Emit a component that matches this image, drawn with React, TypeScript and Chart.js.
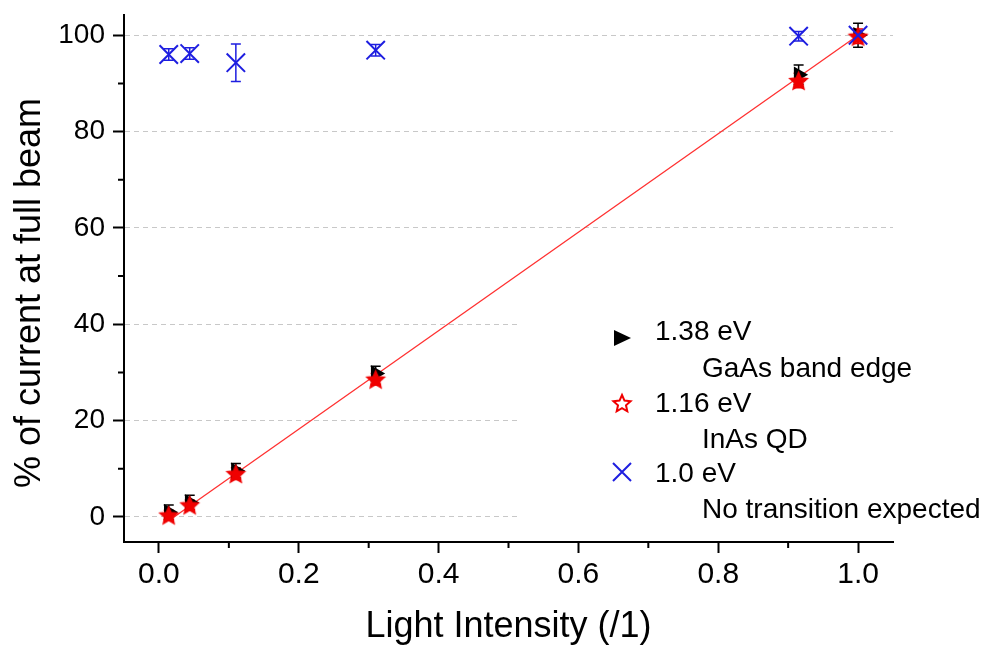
import React, { useEffect, useRef } from 'react';
import { Chart, registerables } from 'chart.js';
Chart.register(...registerables);

// ---- data ----
const intensity = [0.014, 0.044, 0.11, 0.31, 0.915, 1.0];
const gaas = [1.0, 3.0, 9.6, 29.8, 91.8, 100.0];
const gaasErr = [1.5, 1.5, 1.5, 1.5, 2.0, 2.5];
const inas = [0.4, 2.5, 9.0, 28.6, 90.6, 99.8];
const inasErr = [1.0, 1.0, 1.2, 1.2, 1.5, 1.5];
const noTrans = [96.0, 96.2, 94.3, 96.9, 99.8, 100.0];
const noTransErr = [1.2, 1.2, 3.9, 1.2, 1.0, 1.0];
const fitX = [0.014, 1.0];
const fitY = [-0.8, 100.0];
const xTicks = [0, 0.2, 0.4, 0.6, 0.8, 1.0];
const xMinor = [0.1, 0.3, 0.5, 0.7, 0.9];
const yTicks = [0, 20, 40, 60, 80, 100];
const yMinor = [10, 30, 50, 70, 90];
const legendLabels = ['1.38 eV', '1.16 eV', '1.0 eV'];
const legendNotes = ['GaAs band edge', 'InAs QD', 'No transition expected'];
const xTitle = 'Light Intensity (/1)';
const yTitle = '% of current at full beam';

const FONT = '"Liberation Sans", Arial, Helvetica, sans-serif';
const BLACK = '#000000';
const RED = '#f00000';
const BLUE = '#1e1ee0';

function starPath(g: CanvasRenderingContext2D, cx: number, cy: number, outer: number, inner: number) {
  g.beginPath();
  for (let i = 0; i < 10; i++) {
    const r = i % 2 === 0 ? outer : inner;
    const a = -Math.PI / 2 + (i * Math.PI) / 5;
    const px = cx + Math.cos(a) * r;
    const py = cy + Math.sin(a) * r;
    if (i === 0) g.moveTo(px, py);
    else g.lineTo(px, py);
  }
  g.closePath();
}

function makeStar(outer: number, inner: number) {
  const size = Math.ceil(outer * 2 + 4);
  const c = document.createElement('canvas');
  c.width = size;
  c.height = size;
  const g = c.getContext('2d')!;
  starPath(g, size / 2, size / 2 + 1, outer, inner);
  g.fillStyle = RED;
  g.fill();
  g.lineWidth = 1.2;
  g.strokeStyle = RED;
  g.stroke();
  return c;
}

const decor = {
  id: 'decor',
  beforeDatasetsDraw(chart: any) {
    const { ctx } = chart;
    const xs = chart.scales.x;
    const ys = chart.scales.y;
    ctx.save();
    // legend background hides grid lines
    ctx.fillStyle = '#ffffff';
    ctx.fillRect(520, 300, 478, 232);
    // error bars
    const sets: [number[], number[], string][] = [
      [gaas, gaasErr, BLACK],
      [inas, inasErr, RED],
      [noTrans, noTransErr, BLUE],
    ];
    ctx.lineWidth = 1.5;
    for (const [vals, errs, col] of sets) {
      ctx.strokeStyle = col;
      vals.forEach((v, i) => {
        const px = xs.getPixelForValue(intensity[i]);
        const y1 = ys.getPixelForValue(v + errs[i]);
        const y2 = ys.getPixelForValue(v - errs[i]);
        ctx.beginPath();
        ctx.moveTo(px, y1);
        ctx.lineTo(px, y2);
        ctx.moveTo(px - 5, y1);
        ctx.lineTo(px + 5, y1);
        ctx.moveTo(px - 5, y2);
        ctx.lineTo(px + 5, y2);
        ctx.stroke();
      });
    }
    ctx.restore();
  },
  afterDraw(chart: any) {
    const { ctx, chartArea } = chart;
    const xs = chart.scales.x;
    const ys = chart.scales.y;
    ctx.save();
    // minor ticks
    ctx.strokeStyle = BLACK;
    ctx.lineWidth = 2;
    ctx.beginPath();
    xMinor.forEach((v) => {
      const px = xs.getPixelForValue(v);
      ctx.moveTo(px, chartArea.bottom);
      ctx.lineTo(px, chartArea.bottom + 6);
    });
    yMinor.forEach((v) => {
      const py = ys.getPixelForValue(v);
      ctx.moveTo(chartArea.left, py);
      ctx.lineTo(chartArea.left - 6, py);
    });
    ctx.stroke();

    // legend
    const mx = 622;
    ctx.fillStyle = BLACK;
    ctx.beginPath();
    ctx.moveTo(mx - 8, 330);
    ctx.lineTo(mx - 8, 346);
    ctx.lineTo(mx + 9, 338);
    ctx.closePath();
    ctx.fill();
    starPath(ctx, mx, 404, 9, 4.2);
    ctx.strokeStyle = RED;
    ctx.lineWidth = 2;
    ctx.stroke();
    ctx.strokeStyle = BLUE;
    ctx.lineWidth = 2;
    ctx.beginPath();
    ctx.moveTo(mx - 9, 463);
    ctx.lineTo(mx + 9, 481);
    ctx.moveTo(mx + 9, 463);
    ctx.lineTo(mx - 9, 481);
    ctx.stroke();

    ctx.fillStyle = BLACK;
    ctx.font = `28px ${FONT}`;
    ctx.textAlign = 'left';
    ctx.textBaseline = 'alphabetic';
    const labelBase = [340, 412, 482];
    const noteBase = [377, 448, 518];
    legendLabels.forEach((t, i) => ctx.fillText(t, 655, labelBase[i]));
    legendNotes.forEach((t, i) => ctx.fillText(t, 702, noteBase[i]));

    // y title
    ctx.translate(30, 293);
    ctx.rotate(-Math.PI / 2);
    ctx.font = `36px ${FONT}`;
    ctx.textAlign = 'center';
    ctx.textBaseline = 'middle';
    ctx.fillText(yTitle, 0, 0);
    ctx.restore();
  },
};

export default function App() {
  const ref = useRef<HTMLCanvasElement>(null);
  useEffect(() => {
    if (!ref.current) return;
    const star = makeStar(9.5, 4.4);
    const chart = new Chart(ref.current, {
      type: 'scatter',
      data: {
        datasets: [
          {
            label: legendLabels[2],
            data: intensity.map((x, i) => ({ x, y: noTrans[i] })),
            pointStyle: 'crossRot',
            pointRadius: 13,
            pointBorderWidth: 2,
            borderColor: BLUE,
            backgroundColor: BLUE,
          },
          {
            label: legendLabels[1],
            data: intensity.map((x, i) => ({ x, y: inas[i] })),
            pointStyle: star as any,
            pointRadius: 9,
            borderColor: RED,
            backgroundColor: RED,
          },
          {
            label: legendLabels[0],
            data: intensity.map((x, i) => ({ x, y: gaas[i] })),
            pointStyle: 'triangle',
            rotation: 90,
            pointRadius: 9.5,
            pointBorderWidth: 0,
            borderColor: BLACK,
            backgroundColor: BLACK,
          },
          {
            type: 'line',
            label: 'fit',
            data: fitX.map((x, i) => ({ x, y: fitY[i] })),
            borderColor: '#ff3030',
            borderWidth: 1.3,
            pointRadius: 0,
            showLine: true,
            fill: false,
          } as any,
        ],
      },
      options: {
        animation: false,
        responsive: false,
        layout: { padding: { top: 11, right: 105, left: 0, bottom: 0 } },
        plugins: { legend: { display: false }, tooltip: { enabled: false } },
        scales: {
          x: {
            type: 'linear',
            min: -0.05,
            max: 1.05,
            afterBuildTicks: (s: any) => {
              s.ticks = xTicks.map((value) => ({ value }));
            },
            afterFit: (s: any) => {
              s.height = 108;
              s.paddingLeft = 0;
              s.paddingRight = 0;
            },
            grid: {
              drawOnChartArea: false,
              drawTicks: true,
              tickLength: 11,
              tickWidth: 2,
              tickColor: BLACK,
            },
            border: { display: true, color: BLACK, width: 2 },
            ticks: {
              color: BLACK,
              padding: 4,
              font: { family: FONT, size: 30 },
              maxRotation: 0,
              callback: (v: any) => Number(v).toFixed(1),
            },
            title: {
              display: true,
              text: xTitle,
              color: BLACK,
              font: { family: FONT, size: 36 },
              padding: { top: 0, bottom: 1 },
            },
          },
          y: {
            type: 'linear',
            min: -5.2,
            max: 104.2,
            afterBuildTicks: (s: any) => {
              s.ticks = yTicks.map((value) => ({ value }));
            },
            afterFit: (s: any) => {
              s.width = 124;
              s.paddingTop = 0;
              s.paddingBottom = 0;
            },
            grid: {
              drawOnChartArea: true,
              color: '#c8c8c8',
              lineWidth: 1,
              drawTicks: true,
              tickLength: 11,
              tickWidth: 2,
              tickColor: BLACK,
              tickBorderDash: [],
            },
            border: { display: true, color: BLACK, width: 2, dash: [5, 4] },
            ticks: {
              color: BLACK,
              padding: 8,
              font: { family: FONT, size: 28 },
              callback: (v: any) => String(v),
            },
          },
        },
      },
      plugins: [decor],
    });
    return () => chart.destroy();
  }, []);
  return (
    <div style={{ position: 'absolute', left: 0, top: 0, width: 998, height: 650, background: '#fff' }}>
      <canvas ref={ref} width={998} height={650} style={{ display: 'block' }} />
    </div>
  );
}
